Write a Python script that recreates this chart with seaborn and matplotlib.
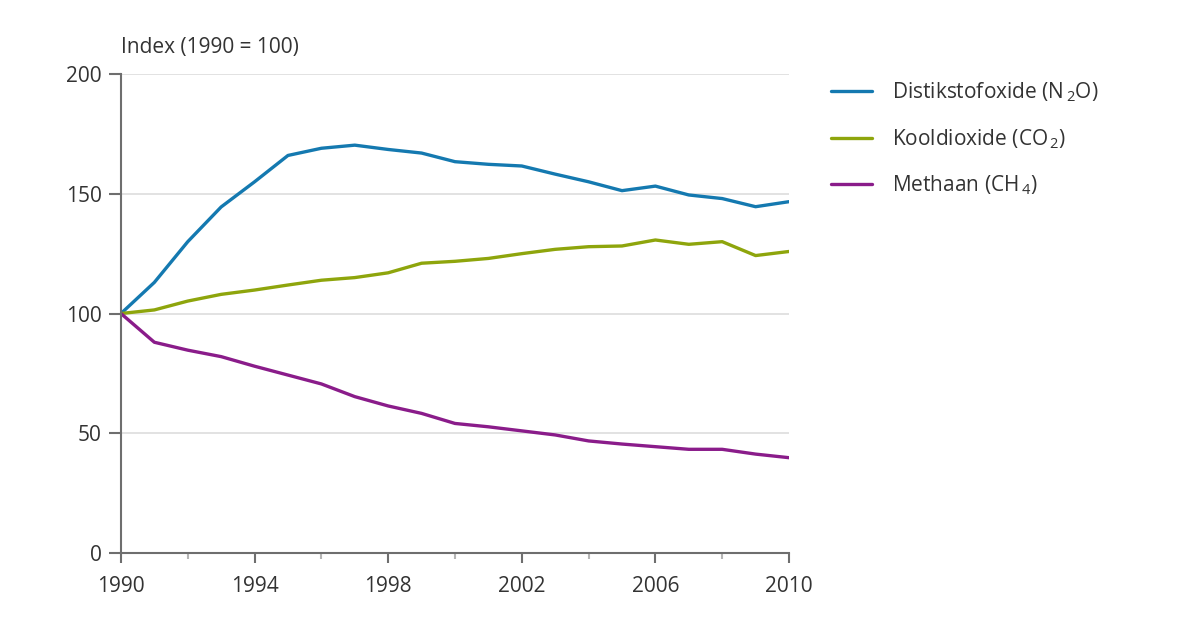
import numpy as np
import pandas as pd
import matplotlib
matplotlib.use("Agg")
import matplotlib.pyplot as plt
import seaborn as sns
from matplotlib.ticker import MultipleLocator

# data
years = list(range(1990, 2011))
n2o = [100, 113, 130, 144.5, 155, 166, 169, 170.3, 168.5, 167, 163.4,
       162.3, 161.6, 158.2, 155, 151.3, 153.2, 149.5, 148, 144.6, 146.7]
co2 = [100, 101.5, 105.2, 108, 109.8, 111.9, 113.9, 115, 117, 121, 121.8,
       123, 125, 126.8, 127.9, 128.2, 130.7, 128.9, 130, 124.2, 125.9]
ch4 = [100, 88, 84.7, 82, 78, 74.3, 70.6, 65.3, 61.4, 58.3, 54.1,
       52.7, 51, 49.3, 46.8, 45.5, 44.4, 43.3, 43.3, 41.3, 39.8]
names = ['Distikstofoxide (N$_{\\,2}$O)', 'Kooldioxide (CO$_{\\,2}$)', 'Methaan (CH$_{\\,4}$)']
colours = ['#1479b0', '#8ea50c', '#8a1c8a']

df = pd.DataFrame({
    'jaar': years * 3,
    'index': n2o + co2 + ch4,
    'gas': [names[0]] * 21 + [names[1]] * 21 + [names[2]] * 21,
})

sns.set_style("white")
plt.rcParams['font.family'] = ['Open Sans', 'DejaVu Sans']
plt.rcParams['mathtext.fontset'] = 'custom'
plt.rcParams['mathtext.rm'] = 'Open Sans'
plt.rcParams['mathtext.it'] = 'Open Sans'
plt.rcParams['mathtext.default'] = 'regular'

fig = plt.figure(figsize=(12, 6.3), dpi=100)
ax = fig.add_axes([0.1008, 0.1222, 0.5567, 0.7603])

sns.lineplot(data=df, x='jaar', y='index', hue='gas', palette=colours,
             linewidth=2.4, ax=ax)

ax.set_xlim(1990, 2010)
ax.set_ylim(0, 200)
ax.set_xticks(range(1990, 2011, 4))
ax.xaxis.set_minor_locator(MultipleLocator(2))
ax.set_yticks([0, 50, 100, 150, 200])
ax.grid(axis='y', color='#dddddd', linewidth=1.2)
ax.set_axisbelow(True)
ax.set_xlabel('')
ax.set_ylabel('')

for s in ['top', 'right']:
    ax.spines[s].set_visible(False)
for s in ['left', 'bottom']:
    ax.spines[s].set_color('#6e6e6e')
    ax.spines[s].set_linewidth(1.5)

ax.tick_params(axis='y', which='major', direction='out', length=9, width=1.5,
               color='#6e6e6e', labelsize=15, labelcolor='#333333', pad=5, left=True)
ax.tick_params(axis='x', which='major', direction='out', length=7.5, width=1.5,
               color='#6e6e6e', labelsize=15, labelcolor='#333333', pad=9, bottom=True)
ax.tick_params(axis='x', which='minor', direction='out', length=4, width=1.5,
               color='#b5b5b5', bottom=True)

fig.text(0.1008, 0.924, 'Index (1990 = 100)', fontsize=15, color='#333333',
         ha='left', va='center')

leg = ax.legend(loc='upper left', bbox_to_anchor=(0.677, 0.902),
                bbox_transform=fig.transFigure, frameon=False, fontsize=15,
                handlelength=1.95, handletextpad=0.95, labelspacing=1.1)
for t in leg.get_texts():
    t.set_color('#333333')
for h in leg.get_lines():
    h.set_linewidth(2.4)

fig.savefig('out.png', dpi=100)
